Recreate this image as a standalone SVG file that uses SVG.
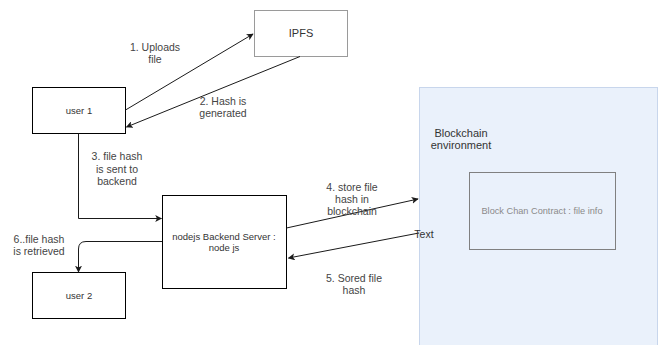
<svg xmlns="http://www.w3.org/2000/svg" width="659" height="345" viewBox="0 0 659 345">
  <style>
    .box { fill: #ffffff; stroke: #000000; stroke-width: 1; }
    .soft { fill: #ffffff; stroke: #9a9a9a; stroke-width: 1; }
    .env { fill: #eaf1fb; stroke: #c8d6ec; stroke-width: 1; }
    .inner { fill: none; stroke: #808080; stroke-width: 1; }
    .edge { fill: none; stroke: #1a1a1a; stroke-width: 1; }
    .node-label { font-family: "Liberation Sans", Arial, sans-serif; font-size: 9.5px; fill: #333333; text-anchor: middle; }
    .lbl { font-family: "Liberation Sans", Arial, sans-serif; font-size: 10.5px; fill: #444444; text-anchor: middle; }
    .big { font-family: "Liberation Sans", Arial, sans-serif; font-size: 11px; fill: #333333; text-anchor: middle; }
    .grey { font-family: "Liberation Sans", Arial, sans-serif; font-size: 9.2px; fill: #8a8a8a; text-anchor: middle; }
  </style>
  <defs>
    <marker id="arrow" viewBox="0 0 10 10" refX="9" refY="5" markerWidth="7" markerHeight="7" markerUnits="userSpaceOnUse" orient="auto">
      <path d="M0,0 L10,5 L0,10 L2.5,5 Z" fill="#1a1a1a"/>
    </marker>
  </defs>

  <rect width="659" height="345" fill="#ffffff"/>

  <g id="blockchain-env">
    <rect class="env" x="419.5" y="87.5" width="238" height="262"/>
    <text class="big" x="461" y="137">Blockchain</text>
    <text class="big" x="461" y="149">environment</text>
  </g>

  <g id="contract">
    <rect class="inner" x="469.5" y="172.5" width="146" height="77"/>
    <text class="grey" x="542" y="214">Block Chan Contract : file info</text>
  </g>

  <g id="ipfs">
    <rect class="soft" x="254.5" y="10.5" width="93" height="46"/>
    <text class="big" x="301" y="37">IPFS</text>
  </g>

  <g id="user1">
    <rect class="box" x="32.5" y="87.5" width="93" height="46"/>
    <text class="node-label" x="79" y="114">user 1</text>
  </g>

  <g id="user2">
    <rect class="box" x="32.5" y="272.5" width="93" height="46"/>
    <text class="node-label" x="79" y="299">user 2</text>
  </g>

  <g id="backend">
    <rect class="box" x="162.5" y="195.5" width="124" height="93"/>
    <text class="node-label" x="224" y="240">nodejs Backend Server :</text>
    <text class="node-label" x="224" y="251">node js</text>
  </g>

  <g id="connectors">
    <path class="edge" d="M125.5,110 L253,34" marker-end="url(#arrow)"/>
    <path class="edge" d="M300,56.5 L126.5,127" marker-end="url(#arrow)"/>
    <path class="edge" d="M78.5,133.5 L78.5,218.5 L161.5,218.5" marker-end="url(#arrow)"/>
    <path class="edge" d="M286.5,228 L418,199" marker-end="url(#arrow)"/>
    <path class="edge" d="M419,233 L288.5,258" marker-end="url(#arrow)"/>
    <path class="edge" d="M162,241.5 L86,241.5 Q78.5,241.5 78.5,249 L78.5,272" marker-end="url(#arrow)"/>

    <text class="lbl" x="155" y="51">1. Uploads</text>
    <text class="lbl" x="155" y="63">file</text>
    <text class="lbl" x="223" y="105">2. Hash is</text>
    <text class="lbl" x="223" y="117">generated</text>
    <text class="lbl" x="117" y="160">3. file hash</text>
    <text class="lbl" x="117" y="173">is sent to</text>
    <text class="lbl" x="117" y="185">backend</text>
    <text class="lbl" x="352" y="191">4. store file</text>
    <text class="lbl" x="352" y="203">hash in</text>
    <text class="lbl" x="352" y="215">blockchain</text>
    <text class="lbl" x="354" y="282">5. Sored file</text>
    <text class="lbl" x="354" y="294">hash</text>
    <text class="lbl" x="39" y="243">6..file hash</text>
    <text class="lbl" x="39" y="255">is retrieved</text>
    <text class="lbl" x="424" y="238" style="fill:#333333">Text</text>
  </g>
</svg>
